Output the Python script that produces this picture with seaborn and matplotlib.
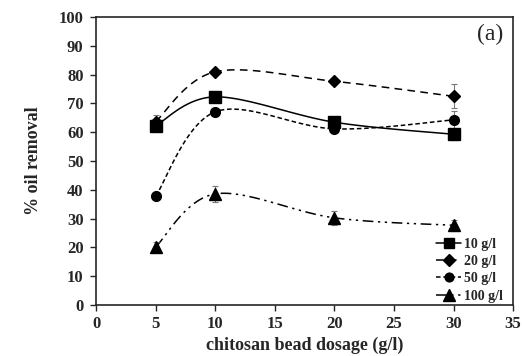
import numpy as np
import pandas as pd
import seaborn as sns
import matplotlib.pyplot as plt
from matplotlib.lines import Line2D

# Dados
dosagem = [5, 10, 20, 30]
rem_10 = [62.3, 72.3, 63.5, 59.3]
rem_20 = [63.7, 81.0, 77.7, 72.5]
rem_50 = [37.8, 67.1, 61.2, 64.3]
rem_100 = [20.2, 38.6, 30.3, 27.7]
err_10 = [1.2, 1.0, 1.2, 2.0]
err_20 = [2.2, 0.8, 0.8, 4.2]
err_50 = [0.8, 1.5, 0.8, 3.0]
err_100 = [1.8, 2.7, 2.5, 2.0]
rotulos = ["10 g/l", "20 g/l", "50 g/l", "100 g/l"]

series = [rem_10, rem_20, rem_50, rem_100]
erros = [err_10, err_20, err_50, err_100]
marcadores = ["s", "D", "o", "^"]
tam_marc = [8, 6.5, 7, 9]
estilos = ["-", (0, (5, 3.5)), (0, (3, 1.8)), (0, (7, 3, 1.5, 3, 1.5, 3))]


def suaviza(x, y, n=40):
    # curva suave no estilo do Excel (Bezier com tensao 1/6)
    x = np.asarray(x, float)
    y = np.asarray(y, float)
    pts = np.column_stack([x, y])
    ext = np.vstack([pts[0], pts, pts[-1]])
    out = []
    t = np.linspace(0, 1, n)[:, None]
    for i in range(len(pts) - 1):
        p0, p1, p2, p3 = ext[i], ext[i + 1], ext[i + 2], ext[i + 3]
        c1 = p1 + (p2 - p0) / 6
        c2 = p2 - (p3 - p1) / 6
        seg = ((1 - t) ** 3) * p1 + 3 * ((1 - t) ** 2) * t * c1 + 3 * (1 - t) * t ** 2 * c2 + t ** 3 * p2
        out.append(seg if i == 0 else seg[1:])
    out = np.vstack(out)
    return out[:, 0], out[:, 1]


sns.set_style("ticks")
plt.rcParams["font.family"] = ["Liberation Serif", "DejaVu Serif"]
plt.rcParams["font.weight"] = "bold"

fig = plt.figure(figsize=(5.22, 3.56), dpi=100)
ax = fig.add_axes([0.184, 0.143, 0.799, 0.809])

for ys, es, m, ms, ls, lab in zip(series, erros, marcadores, tam_marc, estilos, rotulos):
    xs, yc = suaviza(dosagem, ys)
    df = pd.DataFrame({"x": xs, "y": yc})
    sns.lineplot(data=df, x="x", y="y", ax=ax, color="black", lw=1.1,
                 linestyle=ls, sort=False, estimator=None)
    ax.errorbar(dosagem, ys, yerr=es, fmt=m, ms=ms, color="black",
                ecolor="#777777", elinewidth=0.8, capsize=2, capthick=0.8)

ax.set_xlim(0, 35)
ax.set_ylim(0, 100)
ax.set_xticks(range(0, 36, 5))
ax.set_yticks(range(0, 101, 10))
ax.tick_params(labelsize=12, length=4, width=1, direction="out")
ax.tick_params(axis="y", pad=5)
ax.tick_params(axis="x", pad=4)
for sp in ax.spines.values():
    sp.set_linewidth(1.2)
    sp.set_visible(True)

ax.set_xlabel("chitosan bead dosage (g/l)", fontsize=13, fontweight="bold", labelpad=3)
ax.set_ylabel("% oil removal", fontsize=13, fontweight="bold", labelpad=12)
ax.text(0.976, 0.94, "(a)", transform=ax.transAxes, ha="right", va="center",
        fontsize=17, fontweight="normal")

alcas = [Line2D([0], [0], color="black", lw=1.1, linestyle=ls, marker=m, ms=ms * 0.9)
         for m, ms, ls in zip(marcadores, tam_marc, estilos)]
ax.legend(alcas, rotulos, loc="lower right", bbox_to_anchor=(0.995, -0.02),
          frameon=False, handlelength=1.8, handletextpad=0.2, labelspacing=0.3,
          borderaxespad=0.2, prop={"weight": "bold", "size": 10})

fig.savefig("out.png", dpi=100)
